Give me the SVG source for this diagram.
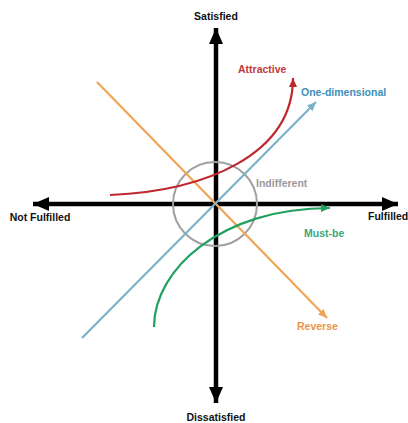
<svg xmlns="http://www.w3.org/2000/svg" width="408" height="423" viewBox="0 0 408 423">
<style>
.lbl{font-family:"Liberation Sans",Arial,sans-serif;font-weight:bold;font-size:10.5px}
.axis{stroke:#000;stroke-width:4.5;fill:none}
.c{fill:none;stroke-width:2.2}
</style>
<defs>
<marker id="ak" markerUnits="userSpaceOnUse" markerWidth="18" markerHeight="14" refX="16" refY="7" orient="auto"><path d="M0,0 L16,7 L0,14 Z" fill="#000"/></marker>
<marker id="ar" markerUnits="userSpaceOnUse" markerWidth="10" markerHeight="10" refX="9" refY="5" orient="auto"><path d="M0,1 L9,5 L0,9 Z" fill="#c0272d"/></marker>
<marker id="ab" markerUnits="userSpaceOnUse" markerWidth="10" markerHeight="10" refX="9" refY="5" orient="auto"><path d="M0,1 L9,5 L0,9 Z" fill="#7ab3c9"/></marker>
<marker id="ag" markerUnits="userSpaceOnUse" markerWidth="10" markerHeight="10" refX="9" refY="5" orient="auto"><path d="M0,1 L9,5 L0,9 Z" fill="#22a060"/></marker>
<marker id="ao" markerUnits="userSpaceOnUse" markerWidth="10" markerHeight="10" refX="9" refY="5" orient="auto"><path d="M0,1 L9,5 L0,9 Z" fill="#f0a456"/></marker>
</defs>
<rect width="408" height="423" fill="#fff"/>
<g id="connectors">
<line class="axis" x1="216" y1="204" x2="216" y2="28" marker-end="url(#ak)"/>
<line class="axis" x1="216" y1="204" x2="216" y2="403" marker-end="url(#ak)"/>
<line class="axis" x1="216" y1="204" x2="33" y2="204" marker-end="url(#ak)"/>
<line class="axis" x1="216" y1="204" x2="398" y2="204" marker-end="url(#ak)"/>
</g>
<g id="indifferent">
<circle cx="215" cy="204" r="42" fill="none" stroke="#a0a0a0" stroke-width="2"/>
<text class="lbl" x="256" y="187" fill="#9a9a9a" font-size="11">Indifferent</text>
</g>
<g id="reverse">
<line class="c" x1="97" y1="82" x2="327" y2="318" stroke="#f0a456" marker-end="url(#ao)"/>
<text class="lbl" x="297" y="330" fill="#e8954a">Reverse</text>
</g>
<g id="one-dimensional">
<line class="c" x1="82" y1="338" x2="316" y2="102" stroke="#7ab3c9" marker-end="url(#ab)"/>
<text class="lbl" x="301" y="96" fill="#3d8fb8">One-dimensional</text>
</g>
<g id="attractive">
<path class="c" d="M110,195 C205,191 293,155 293,78" stroke="#c0272d" stroke-width="2.5" marker-end="url(#ar)"/>
<text class="lbl" x="238" y="73" fill="#c0393b">Attractive</text>
</g>
<g id="must-be">
<path class="c" d="M154,327 C154,270 220,208 330,208" stroke="#22a060" stroke-width="2.5" marker-end="url(#ag)"/>
<text class="lbl" x="304" y="237" fill="#3aa57a">Must-be</text>
</g>
<g id="satisfied"><text class="lbl" x="216" y="20" text-anchor="middle" fill="#111">Satisfied</text></g>
<g id="dissatisfied"><text class="lbl" x="216" y="421" text-anchor="middle" fill="#111">Dissatisfied</text></g>
<g id="not-fulfilled"><text class="lbl" x="40" y="221" text-anchor="middle" fill="#111">Not Fulfilled</text></g>
<g id="fulfilled"><text class="lbl" x="368" y="220" fill="#111">Fulfilled</text></g>
</svg>
